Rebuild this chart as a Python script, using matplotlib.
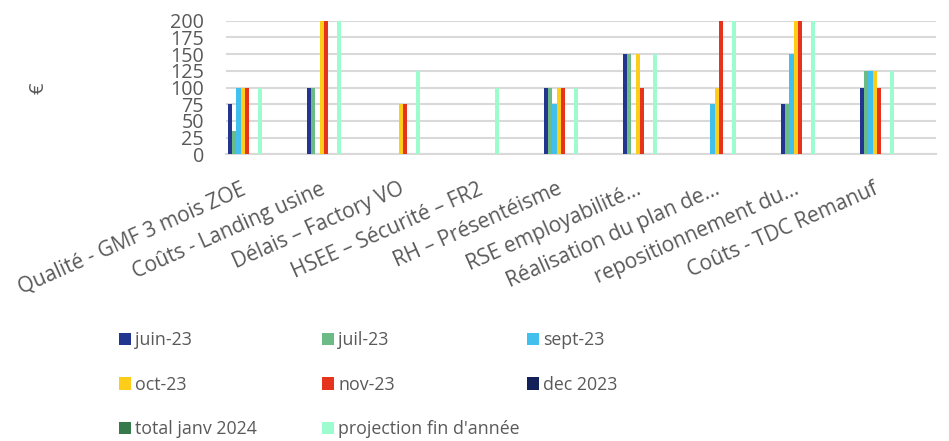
import matplotlib
matplotlib.use("Agg")
import matplotlib.pyplot as plt
from matplotlib.patches import Patch
import numpy as np

plt.rcParams['font.family'] = ['Open Sans', 'DejaVu Sans']

categories = ["Qualité - GMF 3 mois ZOE", "Coûts - Landing usine", "Délais – Factory VO",
              "HSEE – Sécurité – FR2", "RH – Présentéisme", "RSE employabilité…",
              "Réalisation du plan de…", "repositionnement du…", "Coûts - TDC Remanuf"]

series_names = ["juin-23", "juil-23", "sept-23", "oct-23", "nov-23", "dec 2023",
                "total janv 2024", "projection fin d'année"]

juin_23 = [75, 100, 0, 0, 100, 150, 0, 75, 100]
juil_23 = [35, 100, 0, 0, 100, 150, 0, 75, 125]
sept_23 = [100, 0, 0, 0, 75, 0, 75, 150, 125]
oct_23 = [100, 200, 75, 0, 100, 150, 100, 200, 125]
nov_23 = [100, 200, 75, 0, 100, 100, 200, 200, 100]
dec_2023 = [0, 0, 0, 0, 0, 0, 0, 0, 0]
total_janv_2024 = [0, 0, 0, 0, 0, 0, 0, 0, 0]
projection = [100, 200, 125, 100, 100, 150, 200, 200, 125]

values = [juin_23, juil_23, sept_23, oct_23, nov_23, dec_2023, total_janv_2024, projection]
colors = ["#22358f", "#6cbb86", "#41c0ee", "#fecd1a", "#e6331b", "#142158", "#367a4c", "#9dfccd"]

yticks = [0, 25, 50, 75, 100, 125, 150, 175, 200]

fig = plt.figure(figsize=(9.49, 4.41), dpi=100)
ax = fig.add_axes([226/949, 1-154.3/441, 710/949, 133.6/441])

x = np.arange(len(categories))
w = 0.0538
for i, (vals, c) in enumerate(zip(values, colors)):
    ax.bar(x + (i - 3.5) * w, vals, width=w, color=c, zorder=3, linewidth=0)

ax.set_xlim(-0.24, 8.75)
ax.set_ylim(0, 200)
ax.set_yticks(yticks)
ax.set_yticklabels([str(t) for t in yticks])
ax.yaxis.grid(True, color="#d9d9d9", linewidth=1.5, zorder=0)
ax.set_axisbelow(True)
for s in ["top", "right", "left"]:
    ax.spines[s].set_visible(False)
ax.spines["bottom"].set_color("#d9d9d9")
ax.spines["bottom"].set_linewidth(1.5)
ax.tick_params(axis="y", length=0, pad=16, labelsize=14.2, labelcolor="#595959")
ax.tick_params(axis="x", length=0, pad=24.5, labelsize=15, labelcolor="#595959")
ax.set_xticks(x)
ax.set_xticklabels(categories, rotation=24, ha="right", va="center", rotation_mode="anchor")

fig.text(39/949, 1-88/441, "€", rotation=90, fontsize=14.5, color="#595959", ha="center", va="center")

# legend: three columns, row-major order
cols = [[0, 3, 6], [1, 4, 7], [2, 5]]
col_x = [119/949, 322/949, 527/949]
for cx, idxs in zip(col_x, cols):
    handles = [Patch(facecolor=colors[i], edgecolor="none") for i in idxs]
    labels = [series_names[i] for i in idxs]
    fig.legend(handles, labels, loc="upper left", bbox_to_anchor=(cx, 1-331/441),
               frameon=False, fontsize=12.8, labelcolor="#595959",
               handlelength=0.7, handleheight=0.7, handletextpad=0.2,
               labelspacing=1.5, borderpad=0, borderaxespad=0)

fig.savefig("out.png", dpi=100)
